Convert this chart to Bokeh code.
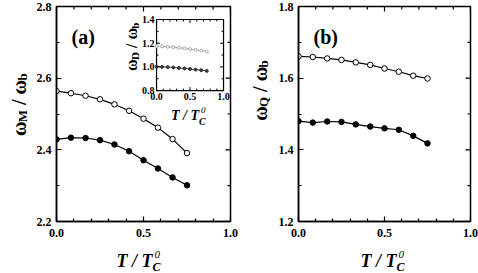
from math import pi
from bokeh.plotting import figure
from bokeh.models import (FixedTicker, Range1d, Label, LabelSet,
                          ColumnDataSource, PrintfTickFormatter)
from bokeh.layouts import row, column
from bokeh.embed import file_html
from bokeh.resources import INLINE
from bokeh.core.properties import value

# ---------------- data ----------------
T = [0.0, 0.083, 0.167, 0.25, 0.333, 0.417, 0.5, 0.583, 0.667, 0.75]

wM_open = [2.564, 2.558, 2.551, 2.541, 2.527, 2.509, 2.487, 2.462, 2.430, 2.391]
wM_filled = [2.429, 2.434, 2.433, 2.427, 2.415, 2.396, 2.371, 2.348, 2.323, 2.301]

wQ_open = [1.661, 1.659, 1.655, 1.651, 1.644, 1.637, 1.627, 1.618, 1.607, 1.599]
wQ_filled = [1.480, 1.476, 1.479, 1.478, 1.471, 1.465, 1.460, 1.456, 1.439, 1.418]

wD_open = [1.175, 1.173, 1.170, 1.166, 1.161, 1.156, 1.150, 1.144, 1.137, 1.130]
wD_filled = [1.002, 1.000, 0.998, 0.995, 0.991, 0.987, 0.982, 0.977, 0.972, 0.966]

x_major = [0.0, 0.5, 1.0]
x_minor = [0.1, 0.2, 0.3, 0.4, 0.6, 0.7, 0.8, 0.9]
ya_major = [2.2, 2.4, 2.6, 2.8]
ya_minor = [2.3, 2.5, 2.7]
yb_major = [1.2, 1.4, 1.6, 1.8]
yb_minor = [1.3, 1.5, 1.7]
yi_major = [0.8, 1.0, 1.2, 1.4]
yi_minor = [0.9, 1.1, 1.3]

FONT = "Liberation Serif"
FH = 215          # frame height
TOP = 6           # border above frames
BOT = 22          # border below frames (tick labels)
ROW1 = TOP + FH + BOT
ROW2 = 273 - ROW1


def style_axis(ax, major, minor, standoff):
    ax.ticker = FixedTicker(ticks=major, minor_ticks=minor)
    ax.formatter = PrintfTickFormatter(format="%.1f")
    ax.axis_line_width = 1.5
    ax.axis_line_color = "black"
    ax.major_tick_in = 5
    ax.major_tick_out = 0
    ax.minor_tick_in = 3
    ax.minor_tick_out = 0
    ax.major_tick_line_width = 1.2
    ax.minor_tick_line_width = 1.2
    ax.major_tick_line_color = "black"
    ax.minor_tick_line_color = "black"
    ax.major_label_text_font = FONT
    ax.major_label_text_font_style = "bold"
    ax.major_label_text_color = "black"
    ax.major_label_text_font_size = "12px"
    ax.major_label_standoff = standoff


def mirror_ticks(p, xmaj, xmin, ymaj, ymin, x0, x1, y0, y1, big, small, lw, **kw):
    # ticks on the top and right edges (inward), drawn through the plot's scales
    for xs, ln in ((xmaj, big), (xmin, small)):
        p.ray(x=xs, y=[y1] * len(xs), length=ln, length_units="screen", angle=-pi / 2,
              line_color="black", line_width=lw, **kw)
    for ys, ln in ((ymaj, big), (ymin, small)):
        p.ray(x=[x1] * len(ys), y=ys, length=ln, length_units="screen", angle=pi,
              line_color="black", line_width=lw, **kw)


def make_fig(fw, yr, ymaj, ymin, mbl, mbr):
    p = figure(frame_width=fw, frame_height=FH,
               x_range=Range1d(0, 1), y_range=Range1d(*yr),
               output_backend="svg", toolbar_location=None,
               min_border_left=mbl, min_border_right=mbr,
               min_border_top=TOP, min_border_bottom=BOT)
    p.xgrid.visible = False
    p.ygrid.visible = False
    p.outline_line_color = "black"
    p.outline_line_width = 1.5
    p.background_fill_color = "white"
    p.border_fill_color = "white"
    style_axis(p.xaxis[0], x_major, x_minor, 7)
    style_axis(p.yaxis[0], ymaj, ymin, 5)
    mirror_ticks(p, x_major, x_minor, ymaj, ymin, 0, 1, yr[0], yr[1], 5, 3, 1.2)
    return p


def text_fig(x0, y0, w, h):
    # blank canvas whose data coordinates equal page pixels (y downwards)
    p = figure(width=w, height=h, x_range=Range1d(x0, x0 + w), y_range=Range1d(y0 + h, y0),
               output_backend="svg", toolbar_location=None,
               x_axis_location=None, y_axis_location=None,
               min_border=0, min_border_left=0, min_border_right=0,
               min_border_top=0, min_border_bottom=0)
    p.grid.visible = False
    p.outline_line_color = None
    p.background_fill_color = "white"
    p.border_fill_color = "white"
    return p


def series(p, x, y, filled, color="black", size=5.5, lw=1.2, **kw):
    p.line(x, y, line_color=color, line_width=lw, **kw)
    p.scatter(x, y, marker="circle", size=size, line_color=color, line_width=1,
              fill_color=color if filled else "white", **kw)


def rot_title(p, parts, x, y, x_off, **kw):
    total = sum(part[2] for part in parts)
    pos = -total / 2.0
    for text, size, adv, drop in parts:
        p.add_layout(Label(x=x, y=y, x_offset=x_off + drop, y_offset=pos, text=text,
                           angle=pi / 2, text_font=FONT, text_font_style="bold",
                           text_font_size=f"{size}px", text_color="black",
                           text_baseline="alphabetic", text_align="left", **kw))
        pos += adv


def x_title(p, x, y, x_off, y_off, big, small, wmain, sub_drop, sup_rise, **kw):
    p.add_layout(Label(x=x, y=y, x_offset=x_off, y_offset=y_off, text="T / T",
                       text_font=FONT, text_font_style="bold italic",
                       text_font_size=f"{big}px", text_color="black",
                       text_baseline="alphabetic", text_align="left", **kw))
    p.add_layout(Label(x=x, y=y, x_offset=x_off + wmain, y_offset=y_off - sub_drop, text="C",
                       text_font=FONT, text_font_style="bold italic",
                       text_font_size=f"{small}px", text_color="black",
                       text_baseline="alphabetic", text_align="left", **kw))
    p.add_layout(Label(x=x, y=y, x_offset=x_off + wmain + 2, y_offset=y_off + sup_rise, text="0",
                       text_font=FONT, text_font_style="italic",
                       text_font_size=f"{small - 1}px", text_color="black",
                       text_baseline="alphabetic", text_align="left", **kw))


# ---------------- panel (a) ----------------
pa = make_fig(174, (2.2, 2.8), ya_major, ya_minor, 24, 10)      # page x 32..240, frame 56..230
series(pa, T, wM_open, False)
series(pa, T, wM_filled, True)
pa.add_layout(Label(x=0, y=2.8, x_offset=15, y_offset=-30, text="(a)", text_font=FONT,
                    text_font_style="bold", text_font_size="20px", text_color="black",
                    text_baseline="alphabetic"))

# inset inside panel (a): box as fractions of the frame
in_l, in_r, in_b, in_t = 0.575, 0.960, 0.609, 0.9395
sx = (in_r - in_l) / 1.0
sy = (in_t - in_b) / 0.6
pa.extra_x_ranges = {"ix": Range1d(0 - in_l / sx, 1 + (1 - in_r) / sx)}
pa.extra_y_ranges = {"iy": Range1d(0.8 - in_b / sy, 1.4 + (1 - in_t) / sy)}
ik = dict(x_range_name="ix", y_range_name="iy")

pa.quad(left=[0], right=[1], bottom=[0.8], top=[1.4], fill_color="white",
        line_color="black", line_width=1.2, **ik)
series(pa, T, wD_open, False, color="#a8a8a8", size=3, lw=1.0, **ik)
series(pa, T, wD_filled, True, color="#383838", size=3, lw=1.0, **ik)
mirror_ticks(pa, x_major, x_minor, yi_major, yi_minor, 0, 1, 0.8, 1.4, 3.5, 2, 1, **ik)
for xs, ln in ((x_major, 3.5), (x_minor, 2)):
    pa.ray(x=xs, y=[0.8] * len(xs), length=ln, length_units="screen", angle=pi / 2,
           line_color="black", line_width=1, **ik)
for ys, ln in ((yi_major, 3.5), (yi_minor, 2)):
    pa.ray(x=[0] * len(ys), y=ys, length=ln, length_units="screen", angle=0,
           line_color="black", line_width=1, **ik)
src_iy = ColumnDataSource(dict(x=[0] * 4, y=yi_major, t=["%.1f" % v for v in yi_major]))
pa.add_layout(LabelSet(x="x", y="y", text="t", source=src_iy, x_offset=-2, y_offset=0,
                       text_font=value(FONT), text_font_style="bold", text_font_size="10px",
                       text_align="right", text_baseline="middle", text_color="black", **ik))
src_ix = ColumnDataSource(dict(x=x_major, y=[0.8] * 3, t=["%.1f" % v for v in x_major]))
pa.add_layout(LabelSet(x="x", y="y", text="t", source=src_ix, x_offset=0, y_offset=-2,
                       text_font=value(FONT), text_font_style="bold", text_font_size="10px",
                       text_align="center", text_baseline="top", text_color="black", **ik))
rot_title(pa, [("ω", 16, 11.0, 0), ("D", 11, 11.9, 3), ("/ ω", 16, 19.4, 0), ("b", 11, 6.1, 3)],
          0, 1.17, -25, **ik)
x_title(pa, 0.5, 0.8, -19, -25, 14, 10, 28, 6, 6, **ik)

# ---------------- panel (b) ----------------
pb = make_fig(172, (1.2, 1.8), yb_major, yb_minor, 24, 8)      # page x 274..478, frame 298..470
series(pb, T, wQ_open, False)
series(pb, T, wQ_filled, True)
pb.add_layout(Label(x=0, y=1.8, x_offset=15, y_offset=-30, text="(b)", text_font=FONT,
                    text_font_style="bold", text_font_size="20px", text_color="black",
                    text_baseline="alphabetic"))

# ---------------- axis titles (page pixel coordinates) ----------------
ya = text_fig(0, 0, 32, ROW1)
rot_title(ya, [("ω", 20, 13.8, 0), ("M", 13, 17.3, 4), ("/ ω", 20, 24.4, 0), ("b", 13, 7.2, 4)],
          18, 111, 0)
yb = text_fig(240, 0, 34, ROW1)
rot_title(yb, [("ω", 20, 13.8, 0), ("Q", 13, 15.1, 4), ("/ ω", 20, 24.4, 0), ("b", 13, 7.2, 4)],
          259, 95, 0)
xa = text_fig(0, ROW1, 240, ROW2)
x_title(xa, 116, 260, 0, 0, 18, 12, 36, 6.5, 6)
xb = text_fig(240, ROW1, 238, ROW2)
x_title(xb, 360, 260, 0, 0, 18, 12, 36, 6.5, 6)

layout = column(row(ya, pa, yb, pb), row(xa, xb))
open("out.html", "w").write(file_html(layout, INLINE))
